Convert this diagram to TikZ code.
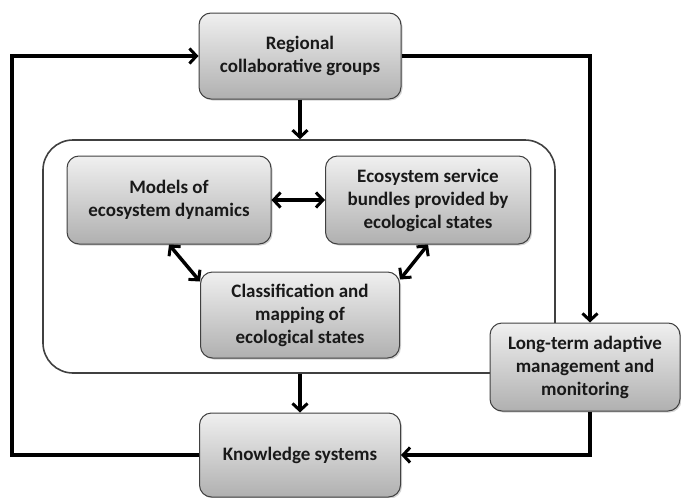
\documentclass[tikz,border=0pt]{standalone}
\usepackage{fontspec}
\setmainfont{Carlito}
\usetikzlibrary{positioning, arrows.meta, shadows}
\tikzset{
x=1pt, y=-1pt, % one unit per pixel, y pointing down
box/.style={draw=black!75, line width=1pt, rounded corners=12pt, align=center,
  top color=gray!12, bottom color=gray!62, text=black!90,
  minimum width=202pt, minimum height=86pt, inner sep=2pt,
  font=\bfseries\fontsize{19}{23}\selectfont,
  drop shadow={shadow xshift=1.5pt, shadow yshift=-1.5pt, opacity=0.35}}, % the grey boxes
tip/.style={Straight Barb[length=7pt, width=15pt, line width=3pt]},
flow/.style={line width=3.5pt, -{Straight Barb[length=7pt, width=15pt, line width=3pt]}}, % thick connectors
both/.style={flow, {Straight Barb[length=7pt, width=15pt, line width=3pt]}-{Straight Barb[length=7pt, width=15pt, line width=3pt]}},
frame/.style={draw=black!75, line width=1.6pt, rounded corners=30pt, minimum width=512pt, minimum height=233pt},
}
\begin{document}
\begin{tikzpicture}
    \useasboundingbox (0,0) rectangle (681,498);
    \node[frame] (inner) at (299,256.5) {};
    \node[box] (reg) at (300,56) {Regional\\collaborative groups};
    \node[box, minimum width=204pt, minimum height=88pt] (models) at (169,200) {Models of\\ecosystem dynamics};
    \node[box, minimum width=205pt, minimum height=88pt] (eco) at (428,200) {Ecosystem service\\bundles provided by\\ecological states};
    \node[box, minimum width=199pt] (class) at (300,315) {Classification and\\mapping of\\ecological states};
    \node[box, minimum width=190pt, minimum height=88pt] (lta) at (585,367) {Long-term adaptive\\management and\\monitoring};
    \node[box, minimum width=201pt, minimum height=84pt] (know) at (300,455) {Knowledge systems};
    \coordinate (lc) at (12,0);
    % main loop
    \draw[flow] (reg) -- (reg |- inner.north);
    \draw[flow] (inner.south -| know) -- (know);
    \draw[flow] (know.west) -| (reg.west -| lc) -- (reg.west);
    \draw[flow] (reg.east) -| ([xshift=5pt]lta.north);
    \draw[flow] ([xshift=5pt]lta.south) |- (know.east);
    % links inside the frame
    \draw[both] (models.east) -- (eco.west);
    \draw[both] (models.south) -- ([yshift=-10pt]class.north west);
    \draw[both] (eco.south) -- ([yshift=-8pt]class.north east);
\end{tikzpicture}
\end{document}
